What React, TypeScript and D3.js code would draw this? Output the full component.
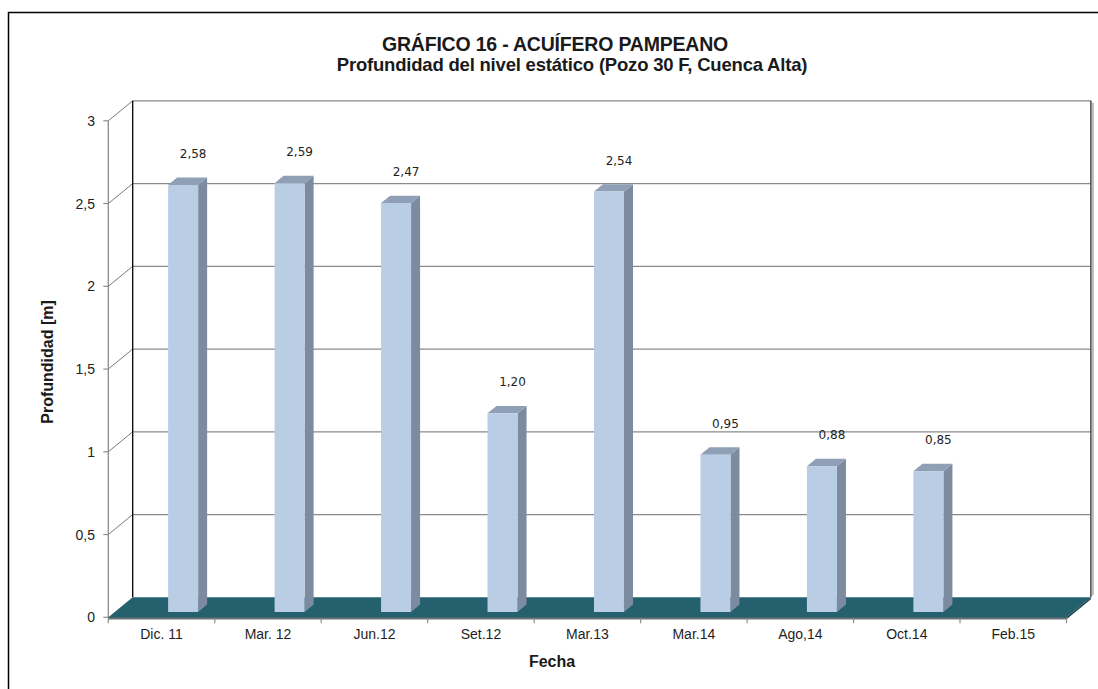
import React from "react";
import * as d3 from "d3";

const categories = ["Dic. 11", "Mar. 12", "Jun.12", "Set.12", "Mar.13", "Mar.14", "Ago,14", "Oct.14", "Feb.15"];
const values: (number | null)[] = [2.58, 2.59, 2.47, 1.2, 2.54, 0.95, 0.88, 0.85, null];
const yTicks = [0, 0.5, 1, 1.5, 2, 2.5, 3];
const titleLine1 = "GRÁFICO 16 - ACUÍFERO PAMPEANO";
const titleLine2 = "Profundidad del nivel estático (Pozo 30 F, Cuenca Alta)";
const yTitle = "Profundidad [m]";
const xTitle = "Fecha";

const W = 1098;
const H = 689;
const DX = 24.4; // depth offset x
const DY = 20; // depth offset y
const D0 = 0.27;
const D1 = 0.64;

const fmt = (v: number, dec: number) => v.toFixed(dec).replace(".", ",");
const fmtTick = (v: number) => String(v).replace(".", ",");

export default function App() {
  const x = d3.scaleBand<string>().domain(categories).range([108.3, 1066.5]).padding(0);
  const y = d3.scaleLinear().domain([0, 3]).range([617.3, 120.8]);
  const bw = x.bandwidth();
  const barW = 30;
  const x0 = x.range()[0];
  const x1 = x.range()[1];
  const font = "'Liberation Sans', Arial, sans-serif";

  const P = (xb: number, v: number, d: number) => [xb + d * DX, y(v) - d * DY];
  const pts = (arr: number[][]) => arr.map((p) => p.join(",")).join(" ");

  return (
    <svg width={W} height={H} style={{ position: "absolute", left: 0, top: 0, background: "#fff" }}>
      <rect x={0} y={0} width={W} height={H} fill="#fff" />
      <rect x={8.5} y={12.5} width={1200} height={800} fill="none" stroke="#000" strokeWidth={1.5} />

      {/* titles */}
      <text x={555} y={51} textAnchor="middle" fontFamily={font} fontWeight="bold" fontSize={19.5} fill="#1a1a1a" letterSpacing={-0.2}>
        {titleLine1}
      </text>
      <text x={572} y={71} textAnchor="middle" fontFamily={font} fontWeight="bold" fontSize={18.5} fill="#1a1a1a" letterSpacing={-0.2}>
        {titleLine2}
      </text>

      {/* back wall gridlines */}
      {yTicks.filter((t) => t > 0).map((t) => (
        <line key={"g" + t} x1={x0 + DX} x2={x1 + DX} y1={y(t) - DY} y2={y(t) - DY} stroke="#8a8a8a" strokeWidth={1.2} />
      ))}
      {/* back wall right edge */}
      <line x1={x1 + DX} x2={x1 + DX} y1={y(3) - DY} y2={y(0) - DY} stroke="#444" strokeWidth={1.5} />
      <line x1={x1 + DX + 2} x2={x1 + DX + 2} y1={y(3) - DY + 2} y2={y(0) - DY - 2} stroke="#bbb" strokeWidth={2} />
      {/* left wall slanted gridlines */}
      {yTicks.filter((t) => t > 0).map((t) => (
        <line key={"s" + t} x1={x0} x2={x0 + DX} y1={y(t)} y2={y(t) - DY} stroke="#7a7a7a" strokeWidth={1} />
      ))}
      {/* back wall left edge */}
      <line x1={x0 + DX} x2={x0 + DX} y1={y(3) - DY} y2={y(0) - DY} stroke="#000" strokeWidth={1.3} />
      {/* front y axis */}
      <line x1={x0} x2={x0} y1={y(3)} y2={y(0)} stroke="#8c8c8c" strokeWidth={1.3} />
      {yTicks.map((t) => (
        <g key={"yt" + t}>
          <line x1={x0 - 5} x2={x0} y1={y(t)} y2={y(t)} stroke="#8c8c8c" strokeWidth={1.2} />
          <text x={95} y={y(t) + 5} textAnchor="end" fontFamily={font} fontSize={14} fill="#222">
            {fmtTick(t)}
          </text>
        </g>
      ))}

      {/* floor */}
      <polygon
        points={pts([P(x0, 0, 0), P(x1, 0, 0), P(x1, 0, 1), P(x0, 0, 1)])}
        fill="#24606e"
      />
      <polygon points={pts([P(x0, 0, 0), P(x1, 0, 0), [x1, y(0) + 2], [x0, y(0) + 2]])} fill="#1b3f48" />
      <polygon points={pts([P(x1, 0, 0), P(x1, 0, 1), [x1 + DX, y(0) - DY + 2], [x1, y(0) + 2]])} fill="#1b3f48" />
      <line x1={x0} x2={x1} y1={y(0) + 1.5} y2={y(0) + 1.5} stroke="#8c8c8c" strokeWidth={1} />

      {/* x ticks */}
      {d3.range(categories.length + 1).map((i) => {
        const xx = x0 + i * bw;
        return <line key={"xt" + i} x1={xx} x2={xx} y1={y(0) + 1} y2={y(0) + 6} stroke="#8c8c8c" strokeWidth={1.2} />;
      })}
      {categories.map((c) => (
        <text key={"xl" + c} x={(x(c) as number) + bw / 2} y={639} textAnchor="middle" fontFamily={font} fontSize={14} fill="#1e1e1e">
          {c}
        </text>
      ))}

      {/* bars */}
      {categories.map((c, i) => {
        const v = values[i];
        if (v == null) return null;
        const xb = (x(c) as number) + bw / 2;
        const xe = xb + barW;
        const front = [P(xb, v, D0), P(xe, v, D0), P(xe, 0, D0), P(xb, 0, D0)];
        const side = [P(xe, v, D0), P(xe, v, D1), P(xe, 0, D1), P(xe, 0, D0)];
        const top = [P(xb, v, D0), P(xb, v, D1), P(xe, v, D1), P(xe, v, D0)];
        const fp = P(xb, v, D0);
        return (
          <g key={"b" + c}>
            <polygon points={pts(side)} fill="#7d8ba0" />
            <polygon points={pts(top)} fill="#8f9fb5" />
            <polygon points={pts(front)} fill="#b9cde5" />
            <text x={fp[0] + 25} y={fp[1] - 27} textAnchor="middle" fontFamily="'DejaVu Sans', Verdana, sans-serif" fontSize={12} fill="#1e1e1e">
              {fmt(v, 2)}
            </text>
          </g>
        );
      })}

      {/* axis titles */}
      <text x={552} y={667} textAnchor="middle" fontFamily={font} fontWeight="bold" fontSize={16} fill="#1a1a1a">
        {xTitle}
      </text>
      <text
        transform={`translate(53,362) rotate(-90)`}
        textAnchor="middle"
        fontFamily={font}
        fontWeight="bold"
        fontSize={16}
        fill="#1a1a1a"
      >
        {yTitle}
      </text>
    </svg>
  );
}
